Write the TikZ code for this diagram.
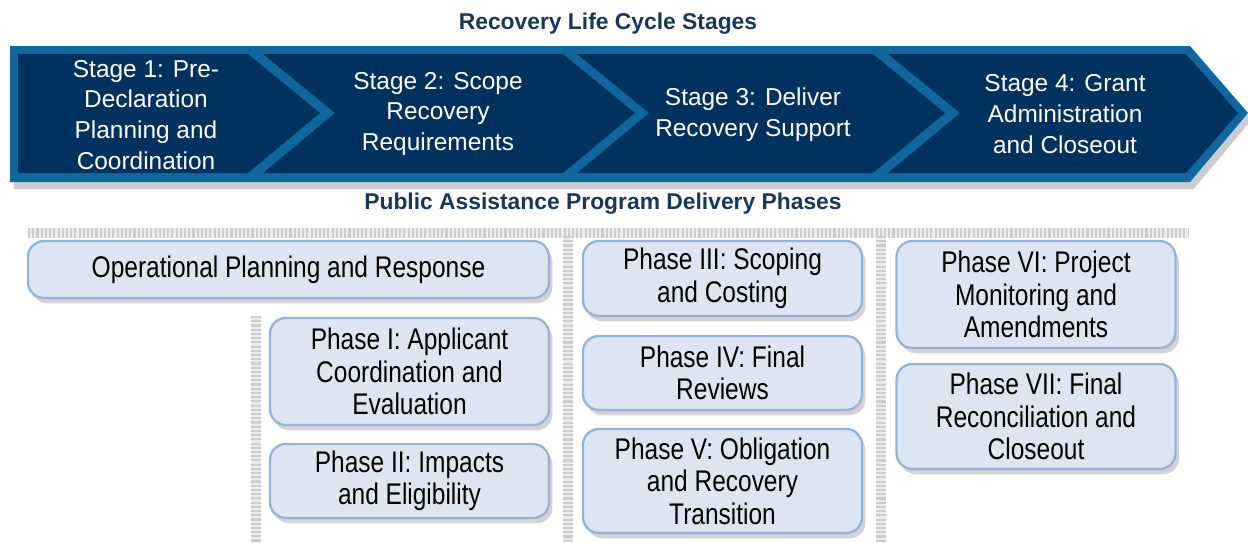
\documentclass[tikz,border=0pt]{standalone}
\usepackage{fontspec}
\setmainfont{Liberation Sans}
\newfontfamily\narrowsans[FakeStretch=0.82]{Liberation Sans}
\usetikzlibrary{shadows}

\definecolor{navy}{RGB}{0,50,96}
\definecolor{band}{RGB}{14,104,158}
\definecolor{titleblue}{RGB}{23,55,94}
\definecolor{boxfill}{RGB}{220,230,242}
\definecolor{boxline}{RGB}{149,179,215}

\tikzset{
  stagetext/.style={text=white, align=center, font=\fontsize{13.9}{17.6}\selectfont},
  heading/.style={text=titleblue, font=\bfseries\fontsize{13}{15}\selectfont},
  phase/.style={draw=boxline, fill=boxfill, line width=1.3pt, rounded corners=9pt,
    align=center, inner sep=2pt, font=\narrowsans\fontsize{17}{18.5}\selectfont,
    drop shadow={opacity=0.35, shadow xshift=2pt, shadow yshift=-3pt}},
  sep/.style={preaction={draw=black!7, line width=6pt}, draw=black!20,
    line width=6pt, dash pattern=on 1.2pt off 1.2pt}
}

\begin{document}
\begin{tikzpicture}[x=0.02cm, y=-0.02cm]
\useasboundingbox (0,0) rectangle (1248,542);

\node[heading] (title) at (608,24) {Recovery Life Cycle Stages};

\fill[band, drop shadow={opacity=0.4, shadow xshift=2pt, shadow yshift=-4pt}]
  (10,46) -- (1190,46) -- (1248,113) -- (1190,182) -- (10,182) -- cycle;
\fill[navy] (18,54) -- (248,54) -- (320,113) -- (248,173) -- (18,173) -- cycle;
\fill[navy] (263,54) -- (563,54) -- (635,113) -- (563,173) -- (263,173) -- (335,113) -- cycle;
\fill[navy] (577,54) -- (873,54) -- (945,113) -- (873,173) -- (577,173) -- (649,113) -- cycle;
\fill[navy] (888,54) -- (1186,54) -- (1238,113) -- (1186,173) -- (888,173) -- (960,113) -- cycle;

\node[stagetext] (s1) at (146,115) {Stage 1: Pre-\\Declaration\\Planning and\\Coordination};
\node[stagetext] (s2) at (438,114) {Stage 2: Scope\\Recovery\\Requirements};
\node[stagetext] (s3) at (753,115) {Stage 3: Deliver\\Recovery Support};
\node[stagetext] (s4) at (1065,114) {Stage 4: Grant\\Administration\\and Closeout};

\node[heading] (subtitle) at (603,204) {Public Assistance Program Delivery Phases};

\draw[sep] (28,233) -- (1188,233);
\draw[sep] (256,316) -- (256,542);
\draw[sep] (568,236) -- (568,542);
\draw[sep] (881,236) -- (881,542);

\node[phase, minimum width=10.42cm, minimum height=1.14cm] (ops) at (288.5,269.5) {Operational Planning and Response};
\node[phase, minimum width=5.58cm, minimum height=2.14cm] (ph1) at (409.5,371.5) {Phase I: Applicant\\Coordination and\\Evaluation};
\node[phase, minimum width=5.58cm, minimum height=1.48cm] (ph2) at (409.5,481) {Phase II: Impacts\\and Eligibility};
\node[phase, minimum width=5.58cm, minimum height=1.5cm] (ph3) at (722.5,278.5) {Phase III: Scoping\\and Costing};
\node[phase, minimum width=5.58cm, minimum height=1.48cm] (ph4) at (722.5,373) {Phase IV: Final\\Reviews};
\node[phase, minimum width=5.58cm, minimum height=2.08cm] (ph5) at (722.5,481) {Phase V: Obligation\\and Recovery\\Transition};
\node[phase, minimum width=5.58cm, minimum height=2.14cm] (ph6) at (1036,294.5) {Phase VI: Project\\Monitoring and\\Amendments};
\node[phase, minimum width=5.58cm, minimum height=2.1cm] (ph7) at (1036,416.5) {Phase VII: Final\\Reconciliation and\\Closeout};

\end{tikzpicture}
\end{document}
